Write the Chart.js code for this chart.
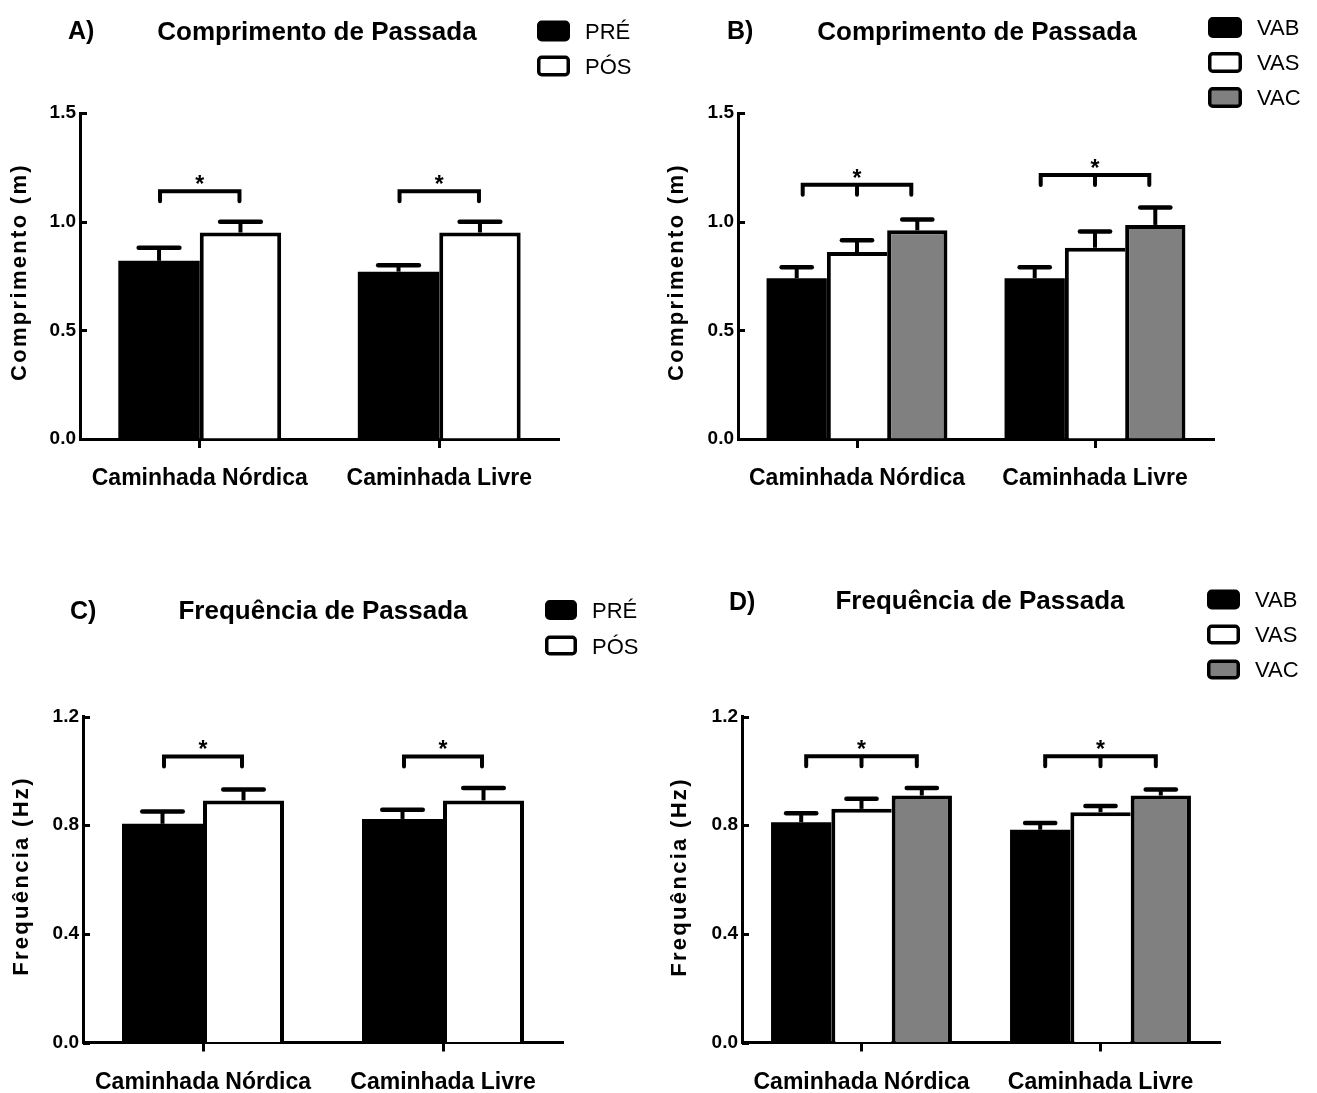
<!DOCTYPE html>
<html lang="pt">
<head>
<meta charset="utf-8">
<title>Comprimento e Frequência de Passada</title>
<script src="https://cdn.jsdelivr.net/npm/chart.js@4.4.1/dist/chart.umd.min.js"></script>
<style>
  html, body { margin: 0; padding: 0; background: #fff; }
  #fig { position: relative; width: 1317px; height: 1093px; background: #fff; overflow: hidden; }
  #fig canvas { position: absolute; }
</style>
</head>
<body>
<div id="fig"></div>
<script>
// Categorias comuns a todos os painéis
const categorias = ['Caminhada Nórdica', 'Caminhada Livre'];

// A) Comprimento de passada (m): PRÉ x PÓS
const compPre = [0.82, 0.77];
const compPreErr = [0.06, 0.03];
const compPos = [0.95, 0.95];
const compPosErr = [0.05, 0.05];
const compSigA = [1.14, 1.14];

// B) Comprimento de passada (m): VAB, VAS, VAC
const compVab = [0.74, 0.74];
const compVabErr = [0.05, 0.05];
const compVas = [0.86, 0.88];
const compVasErr = [0.055, 0.075];
const compVac = [0.96, 0.985];
const compVacErr = [0.05, 0.08];
const compSigB = [1.17, 1.215];

// C) Frequência de passada (Hz): PRÉ x PÓS
const freqPre = [0.805, 0.823];
const freqPreErr = [0.045, 0.034];
const freqPos = [0.891, 0.891];
const freqPosErr = [0.04, 0.046];
const freqSigC = [1.053, 1.053];

// D) Frequência de passada (Hz): VAB, VAS, VAC
const freqVab = [0.811, 0.783];
const freqVabErr = [0.033, 0.025];
const freqVas = [0.86, 0.848];
const freqVasErr = [0.037, 0.023];
const freqVac = [0.909, 0.909];
const freqVacErr = [0.028, 0.022];
const freqSigD = [1.054, 1.054];

const ticksComp = [0, 0.5, 1.0, 1.5];
const ticksFreq = [0, 0.4, 0.8, 1.2];

const PRETO = '#000000', BRANCO = '#ffffff', CINZA = '#808080';
const FAMILIA = "'Liberation Sans', Arial, Helvetica, sans-serif";

Chart.defaults.font.family = FAMILIA;
Chart.defaults.color = '#000';

const paineis = [
  {
    frame: { x: 0, y: 0, w: 658, h: 546 },
    area: { l: 80, r: 559, t: 113, b: 439 },
    ticks: ticksComp, catPct: 0.68,
    letra: 'A)', letraPos: [68, 38.5],
    titulo: 'Comprimento de Passada', tituloPos: [317, 39.5],
    eixoY: 'Comprimento (m)', eixoYPos: [20, 272],
    legenda: { x: 537, w: 33, h: 21, cy: 31, gap: 35, tx: 585, dy: 8 },
    inset: 1, sig: compSigA,
    series: [
      { label: 'PRÉ', data: compPre, err: compPreErr, color: PRETO },
      { label: 'PÓS', data: compPos, err: compPosErr, color: BRANCO }
    ]
  },
  {
    frame: { x: 658, y: 0, w: 659, h: 546 },
    area: { l: 738, r: 1214, t: 113, b: 439 },
    ticks: ticksComp, catPct: 0.76,
    letra: 'B)', letraPos: [727, 38.5],
    titulo: 'Comprimento de Passada', tituloPos: [977, 39.5],
    eixoY: 'Comprimento (m)', eixoYPos: [677, 272],
    legenda: { x: 1208, w: 34, h: 21, cy: 27.5, gap: 35, tx: 1257, dy: 7.5 },
    inset: 6, sig: compSigB,
    series: [
      { label: 'VAB', data: compVab, err: compVabErr, color: PRETO },
      { label: 'VAS', data: compVas, err: compVasErr, color: BRANCO },
      { label: 'VAC', data: compVac, err: compVacErr, color: CINZA }
    ]
  },
  {
    frame: { x: 0, y: 546, w: 658, h: 547 },
    area: { l: 83, r: 563, t: 716.5, b: 1042.5 },
    ticks: ticksFreq, catPct: 0.675,
    letra: 'C)', letraPos: [70, 619],
    titulo: 'Frequência de Passada', tituloPos: [323, 619.3],
    eixoY: 'Frequência (Hz)', eixoYPos: [22, 876],
    legenda: { x: 545, w: 32, h: 20, cy: 610, gap: 35.5, tx: 592, dy: 8 },
    inset: 1.5, sig: freqSigC,
    series: [
      { label: 'PRÉ', data: freqPre, err: freqPreErr, color: PRETO },
      { label: 'PÓS', data: freqPos, err: freqPosErr, color: BRANCO }
    ]
  },
  {
    frame: { x: 658, y: 546, w: 659, h: 547 },
    area: { l: 742, r: 1220, t: 716.5, b: 1042.5 },
    ticks: ticksFreq, catPct: 0.757,
    letra: 'D)', letraPos: [729, 610],
    titulo: 'Frequência de Passada', tituloPos: [980, 608.5],
    eixoY: 'Frequência (Hz)', eixoYPos: [680, 877],
    legenda: { x: 1207, w: 33, h: 20, cy: 599.5, gap: 35, tx: 1255, dy: 7.5 },
    inset: 5, sig: freqSigD,
    series: [
      { label: 'VAB', data: freqVab, err: freqVabErr, color: PRETO },
      { label: 'VAS', data: freqVas, err: freqVasErr, color: BRANCO },
      { label: 'VAC', data: freqVac, err: freqVacErr, color: CINZA }
    ]
  }
];

// Barras de erro (só a parte superior), colchetes de significância, títulos e legenda
function painelPlugin(p) {
  const ox = p.frame.x, oy = p.frame.y;
  return {
    id: 'painel',
    afterDatasetsDraw(chart) {
      const ctx = chart.ctx;
      const yS = chart.scales.y;
      ctx.save();
      ctx.strokeStyle = '#000';
      // barras de erro
      chart.data.datasets.forEach((ds, i) => {
        const meta = chart.getDatasetMeta(i);
        meta.data.forEach((bar, j) => {
          const yTop = yS.getPixelForValue(ds.data[j] + ds.err[j]);
          const half = bar.width / 4;
          ctx.lineWidth = 4;
          ctx.lineCap = 'butt';
          ctx.beginPath();
          ctx.moveTo(bar.x, bar.y);
          ctx.lineTo(bar.x, yTop);
          ctx.stroke();
          ctx.lineWidth = 4.5;
          ctx.lineCap = 'round';
          ctx.beginPath();
          ctx.moveTo(bar.x - half, yTop);
          ctx.lineTo(bar.x + half, yTop);
          ctx.stroke();
        });
      });
      // colchetes com asterisco
      const n = chart.data.datasets.length;
      const first = chart.getDatasetMeta(0).data;
      const last = chart.getDatasetMeta(n - 1).data;
      const xS = chart.scales.x;
      p.sig.forEach((v, j) => {
        const yb = yS.getPixelForValue(v);
        const x1 = first[j].x + p.inset;
        const x2 = last[j].x - p.inset;
        const drop = 10;
        ctx.lineWidth = 4;
        ctx.lineCap = 'round';
        ctx.lineJoin = 'miter';
        ctx.beginPath();
        ctx.moveTo(x1, yb + drop);
        ctx.lineTo(x1, yb);
        ctx.lineTo(x2, yb);
        ctx.lineTo(x2, yb + drop);
        if (n === 3) {
          const xm = chart.getDatasetMeta(1).data[j].x;
          ctx.moveTo(xm, yb);
          ctx.lineTo(xm, yb + drop);
        }
        ctx.stroke();
        ctx.fillStyle = '#000';
        ctx.font = 'bold 23px ' + FAMILIA;
        ctx.textAlign = 'center';
        ctx.textBaseline = 'alphabetic';
        ctx.fillText('*', xS.getPixelForValue(j), yb + 1);
      });
      ctx.restore();
    },
    afterDraw(chart) {
      const ctx = chart.ctx;
      const yS = chart.scales.y;
      const area = chart.chartArea;
      ctx.save();
      // marcas do eixo Y voltadas para dentro
      ctx.strokeStyle = '#000';
      ctx.lineWidth = 3;
      yS.ticks.forEach(t => {
        const py = Math.round(yS.getPixelForValue(t.value)) + 0.5;
        ctx.beginPath();
        ctx.moveTo(area.left, py);
        ctx.lineTo(area.left + 7, py);
        ctx.stroke();
      });
      ctx.fillStyle = '#000';
      // letra do painel
      ctx.font = 'bold 25px ' + FAMILIA;
      ctx.textAlign = 'left';
      ctx.textBaseline = 'alphabetic';
      ctx.fillText(p.letra, p.letraPos[0] - ox, p.letraPos[1] - oy);
      // título
      ctx.font = 'bold 26px ' + FAMILIA;
      ctx.textAlign = 'center';
      ctx.fillText(p.titulo, p.tituloPos[0] - ox, p.tituloPos[1] - oy);
      // título do eixo Y
      ctx.save();
      ctx.translate(p.eixoYPos[0] - ox, p.eixoYPos[1] - oy);
      ctx.rotate(-Math.PI / 2);
      ctx.font = 'bold 22px ' + FAMILIA;
      ctx.letterSpacing = '2.3px';
      ctx.textAlign = 'center';
      ctx.textBaseline = 'middle';
      ctx.fillText(p.eixoY, 0, 0);
      ctx.restore();
      // legenda
      const L = p.legenda;
      chart.data.datasets.forEach((ds, i) => {
        const cy = L.cy + i * L.gap - oy;
        const bx = L.x - ox;
        const lw = 3.5;
        ctx.beginPath();
        ctx.roundRect(bx + lw / 2, cy - L.h / 2 + lw / 2, L.w - lw, L.h - lw, 3);
        ctx.fillStyle = ds.backgroundColor;
        ctx.fill();
        ctx.lineWidth = lw;
        ctx.strokeStyle = '#000';
        ctx.stroke();
        ctx.fillStyle = '#000';
        ctx.font = '22px ' + FAMILIA;
        ctx.textAlign = 'left';
        ctx.textBaseline = 'alphabetic';
        ctx.fillText(ds.label, L.tx - ox, cy + L.dy);
      });
      ctx.restore();
    }
  };
}

function criarPainel(p) {
  const canvas = document.createElement('canvas');
  canvas.width = p.frame.w;
  canvas.height = p.frame.h;
  canvas.style.left = p.frame.x + 'px';
  canvas.style.top = p.frame.y + 'px';
  canvas.style.width = p.frame.w + 'px';
  canvas.style.height = p.frame.h + 'px';
  document.getElementById('fig').appendChild(canvas);

  const a = {
    l: p.area.l - p.frame.x, r: p.area.r - p.frame.x,
    t: p.area.t - p.frame.y, b: p.area.b - p.frame.y
  };
  const bw = 4;
  const n = p.series.length;

  new Chart(canvas, {
    type: 'bar',
    data: {
      labels: categorias,
      datasets: p.series.map((s, i) => ({
        label: s.label,
        data: s.data,
        err: s.err,
        backgroundColor: s.color,
        borderColor: '#000',
        // barras pretas dispensam contorno; as demais têm contorno no topo e à esquerda
        borderWidth: s.color === PRETO ? 0
          : (i === n - 1
            ? { top: bw, left: bw, right: bw, bottom: 0 }
            : { top: bw, left: bw, right: 0, bottom: 0 }),
        borderSkipped: false,
        barPercentage: 1,
        categoryPercentage: p.catPct
      }))
    },
    options: {
      responsive: false,
      maintainAspectRatio: false,
      animation: false,
      devicePixelRatio: 1,
      events: [],
      layout: { padding: { left: 0, top: a.t, right: p.frame.w - a.r, bottom: 0 } },
      plugins: { legend: { display: false }, title: { display: false }, tooltip: { enabled: false } },
      scales: {
        x: {
          offset: true,
          grid: { display: true, drawOnChartArea: false, drawTicks: true, tickLength: 9, tickWidth: 3, tickColor: '#000', offset: false },
          border: { display: true, color: '#000', width: 3 },
          ticks: { font: { size: 23, weight: 'bold' }, color: '#000', padding: 17, maxRotation: 0 },
          afterFit(s) { s.height = p.frame.h - a.b; }
        },
        y: {
          min: p.ticks[0],
          max: p.ticks[p.ticks.length - 1],
          afterBuildTicks(s) { s.ticks = p.ticks.map(v => ({ value: v })); },
          grid: { display: true, drawOnChartArea: false, drawTicks: false },
          border: { display: true, color: '#000', width: 3 },
          ticks: {
            font: { size: 19, weight: 'bold' }, color: '#000', padding: 4,
            callback: v => Number(v).toFixed(1)
          },
          afterFit(s) { s.width = a.l; }
        }
      }
    },
    plugins: [painelPlugin(p)]
  });
}

paineis.forEach(criarPainel);
</script>
</body>
</html>
